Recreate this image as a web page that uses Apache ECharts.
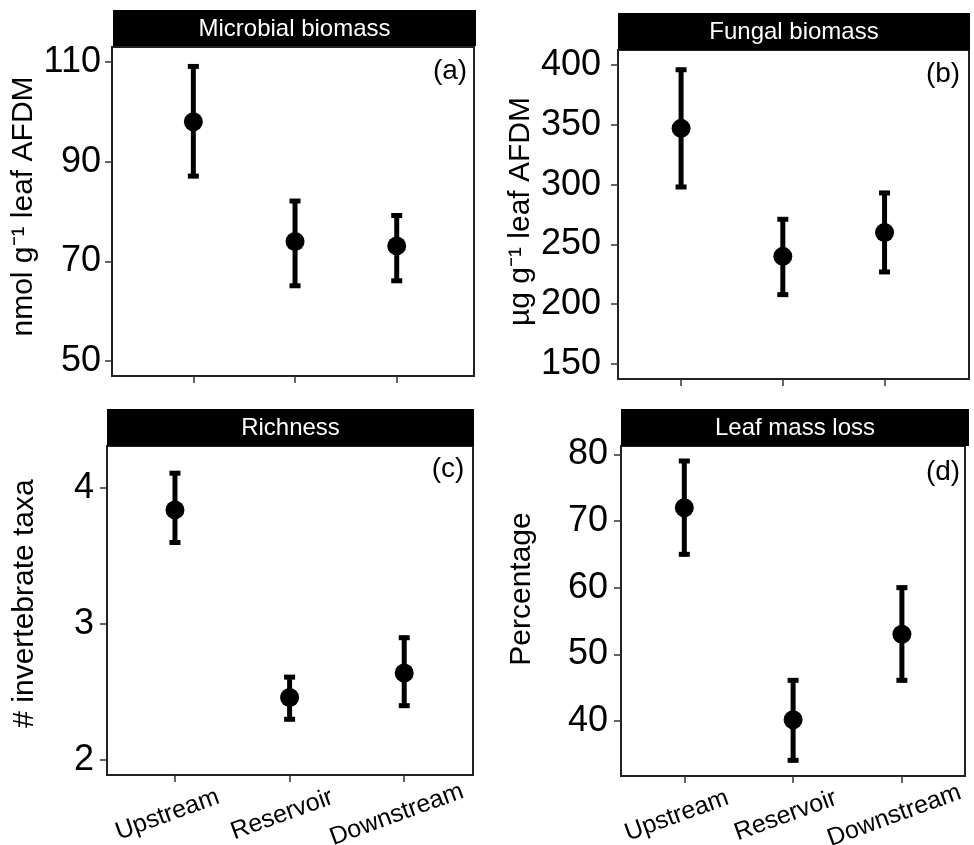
<!DOCTYPE html>
<html><head><meta charset="utf-8">
<script src="https://cdn.jsdelivr.net/npm/echarts@6/dist/echarts.min.js"></script>
<style>html,body{margin:0;padding:0;background:#fff}#c{width:974px;height:845px}</style>
</head><body><div id="c"></div>
<script>
// ---- data ----
const categories = ['Upstream', 'Reservoir', 'Downstream'];

const microbialMean = [98.0, 74.0, 73.1];
const microbialLow  = [87.1, 65.1, 66.1];
const microbialHigh = [109.1, 82.1, 79.2];
const microbialTicks = [50, 70, 90, 110];

const fungalMean = [347, 240, 260];
const fungalLow  = [298, 208, 227];
const fungalHigh = [396, 271, 293];
const fungalTicks = [150, 200, 250, 300, 350, 400];

const richnessMean = [3.84, 2.46, 2.64];
const richnessLow  = [3.60, 2.30, 2.40];
const richnessHigh = [4.11, 2.61, 2.90];
const richnessTicks = [2, 3, 4];

const massLossMean = [72.0, 40.2, 53.0];
const massLossLow  = [65.0, 34.1, 46.1];
const massLossHigh = [79.0, 46.1, 60.0];
const massLossTicks = [40, 50, 60, 70, 80];

const stripTitles = ['Microbial biomass', 'Fungal biomass', 'Richness', 'Leaf mass loss'];
const panelTags = ['(a)', '(b)', '(c)', '(d)'];
const yTitles = ['nmol g\u207B\u00B9 leaf AFDM', '\u00B5g g\u207B\u00B9 leaf AFDM', '# invertebrate taxa', 'Percentage'];

// ---- layout ----
const FONT = '"Liberation Sans", Arial, Helvetica, sans-serif';
const panels = [
  {mean: microbialMean, low: microbialLow, high: microbialHigh, ticks: microbialTicks,
   grid: {left: 112, top: 47, width: 362, height: 329}, xr: [0.20, 3.76], yr: [47, 113],
   strip: [113, 10, 363, 36], tag: [450, 71], nameGap: 73, labelMargin: 11, namePad: [0, 0, 0, 10]},
  {mean: fungalMean, low: fungalLow, high: fungalHigh, ticks: fungalTicks,
   grid: {left: 618, top: 50, width: 351, height: 329}, xr: [0.38, 3.83], yr: [137.5, 412.5],
   strip: [618, 13, 352, 37], tag: [943, 74], nameGap: 82, labelMargin: 17, namePad: [0, 0, 0, 6]},
  {mean: richnessMean, low: richnessLow, high: richnessHigh, ticks: richnessTicks,
   grid: {left: 107, top: 446, width: 366, height: 329}, xr: [0.407, 3.60], yr: [1.89, 4.31],
   strip: [107, 409, 367, 37], tag: [448, 469], nameGap: 67, labelMargin: 13, namePad: [0, 0, 0, 14]},
  {mean: massLossMean, low: massLossLow, high: massLossHigh, ticks: massLossTicks,
   grid: {left: 621, top: 446, width: 344, height: 330}, xr: [0.418, 3.58], yr: [31.75, 81.25],
   strip: [621, 409, 348, 37], tag: [943, 472], nameGap: 84, labelMargin: 13, namePad: [0, 0, 0, 44]}
];

function renderErr(params, api) {
  const x = api.value(0), lo = api.value(1), hi = api.value(2);
  const p1 = api.coord([x, hi]), p2 = api.coord([x, lo]);
  const cw = 5.5;
  const style = {stroke: '#000', lineWidth: 5};
  return {type: 'group', children: [
    {type: 'line', shape: {x1: p1[0], y1: p1[1] - 2, x2: p2[0], y2: p2[1] + 2}, style: style},
    {type: 'line', shape: {x1: p1[0] - cw, y1: p1[1], x2: p1[0] + cw, y2: p1[1]}, style: style},
    {type: 'line', shape: {x1: p2[0] - cw, y1: p2[1], x2: p2[0] + cw, y2: p2[1]}, style: style}
  ]};
}

const grids = [], xAxes = [], yAxes = [], series = [], graphics = [];
panels.forEach((p, i) => {
  grids.push(Object.assign({show: true, borderColor: '#222', borderWidth: 2, backgroundColor: '#fff',
    containLabel: false, outerBoundsMode: 'none'}, p.grid));
  xAxes.push({
    type: 'value', gridIndex: i, min: p.xr[0], max: p.xr[1],
    splitLine: {show: false}, axisLine: {show: false},
    axisTick: {show: true, length: 7, customValues: [1, 2, 3], lineStyle: {color: '#333', width: 1.5}},
    axisLabel: {
      show: i >= 2, customValues: [1, 2, 3], rotate: 20, margin: 37,
      align: 'center', verticalAlign: 'middle', padding: [0, 16, 0, 0],
      fontFamily: FONT, fontSize: 25, color: '#000',
      formatter: v => categories[Math.round(v) - 1]
    }
  });
  yAxes.push({
    type: 'value', gridIndex: i, min: p.yr[0], max: p.yr[1],
    splitLine: {show: false}, axisLine: {show: false},
    axisTick: {show: true, length: 7, customValues: p.ticks, lineStyle: {color: '#333', width: 1.5}},
    axisLabel: {customValues: p.ticks, margin: p.labelMargin, fontFamily: FONT, fontSize: 36, color: '#000'},
    name: yTitles[i], nameLocation: 'middle', nameGap: p.nameGap, nameRotate: 90,
    nameTextStyle: {fontFamily: FONT, fontSize: 30, color: '#000', lineHeight: 30, padding: p.namePad}
  });
  series.push({
    type: 'custom', xAxisIndex: i, yAxisIndex: i, renderItem: renderErr,
    encode: {x: 0, y: [1, 2]}, silent: true,
    data: categories.map((c, k) => [k + 1, p.low[k], p.high[k]])
  });
  series.push({
    type: 'scatter', xAxisIndex: i, yAxisIndex: i, symbol: 'circle', symbolSize: 19,
    itemStyle: {color: '#000', opacity: 1}, silent: true, z: 5,
    data: categories.map((c, k) => [k + 1, p.mean[k]])
  });
  const s = p.strip;
  graphics.push({type: 'rect', left: s[0], top: s[1], shape: {width: s[2], height: s[3]}, style: {fill: '#000'}, silent: true});
  graphics.push({type: 'text', x: s[0] + s[2] / 2, y: s[1] + s[3] / 2 + 1,
    style: {text: stripTitles[i], fill: '#fff', font: '24px ' + FONT, textAlign: 'center', textVerticalAlign: 'middle'}, silent: true});
  graphics.push({type: 'text', x: p.tag[0], y: p.tag[1],
    style: {text: panelTags[i], fill: '#000', font: '28px ' + FONT, textAlign: 'center', textVerticalAlign: 'middle'}, silent: true, z: 10});
});

const chart = echarts.init(document.getElementById('c'), null, {renderer: 'canvas'});
chart.setOption({
  animation: false,
  backgroundColor: '#fff',
  grid: grids, xAxis: xAxes, yAxis: yAxes, series: series,
  graphic: {elements: graphics}
});
</script>
</body></html>
